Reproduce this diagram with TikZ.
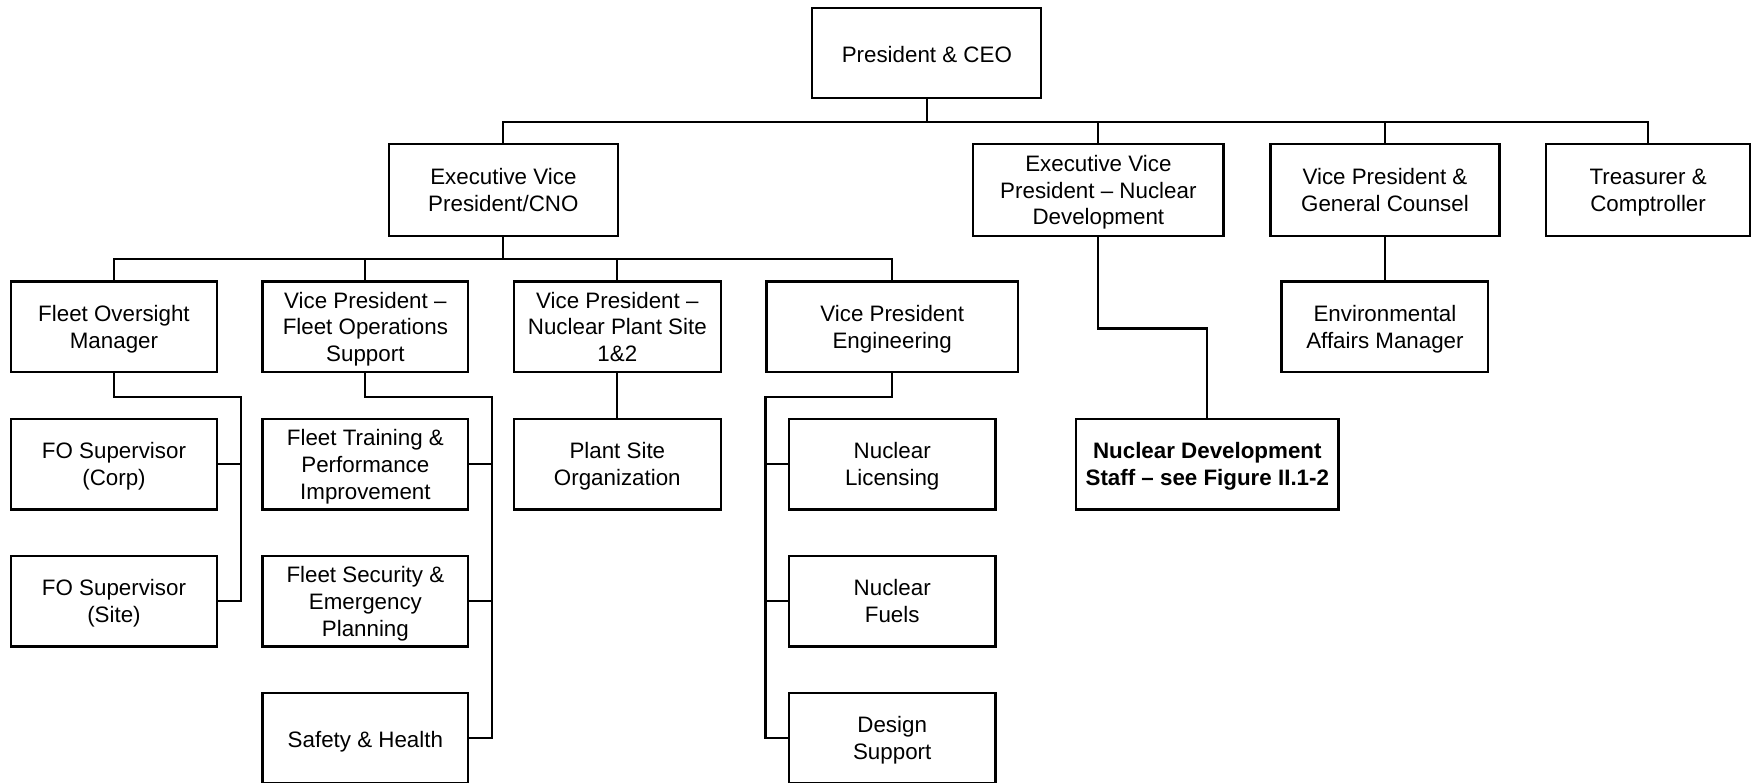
\documentclass[tikz,border=0pt]{standalone}
\usepackage{fontspec}
\setmainfont{Liberation Sans}
\usetikzlibrary{calc}

\begin{document}
\begin{tikzpicture}[x=1pt,y=-1pt,
    box/.style={draw,line width=2pt,align=center,inner sep=0pt,minimum height=81pt,
      font=\fontsize{20}{24}\selectfont,text depth=0pt,
      execute at begin node=\strut,execute at end node=\strut},
    link/.style={line width=2pt}]
    \useasboundingbox (0,0) rectangle (1568,700);
    \clip (0,0) rectangle (1568,700);

    \node[box,minimum width=205pt] (ceo) at (829.5,47.5) {President \& CEO};

    \node[box,minimum width=205pt,minimum height=82pt] (evpcno) at (450.5,170) {Executive Vice\\President/CNO};
    \node[box,minimum width=224pt,minimum height=82pt] (evpnd) at (983,170) {Executive Vice\\President \textendash{} Nuclear\\Development};
    \node[box,minimum width=205pt,minimum height=82pt] (vpgc) at (1239.5,170) {Vice President \&\\General Counsel};
    \node[box,minimum width=183pt,minimum height=82pt] (treas) at (1475,170) {Treasurer \&\\Comptroller};

    \node[box,minimum width=184pt] (fom) at (102,292.5) {Fleet Oversight\\Manager};
    \node[box,minimum width=184pt] (vpfos) at (327,292.5) {Vice President \textendash\\Fleet Operations\\Support};
    \node[box,minimum width=185pt] (vpnps) at (552.5,292.5) {Vice President \textendash\\Nuclear Plant Site\\1\&2};
    \node[box,minimum width=225pt] (vpeng) at (798.5,292.5) {Vice President\\Engineering};
    \node[box,minimum width=185pt] (envaff) at (1239.5,292.5) {Environmental\\Affairs Manager};

    \node[box,minimum width=184pt] (fosc) at (102,415.5) {FO Supervisor\\(Corp)};
    \node[box,minimum width=184pt] (foss) at (102,538) {FO Supervisor\\(Site)};
    \node[box,minimum width=184pt] (ftpi) at (327,415.5) {Fleet Training \&\\Performance\\Improvement};
    \node[box,minimum width=184pt] (fsep) at (327,538) {Fleet Security \&\\Emergency\\Planning};
    \node[box,minimum width=184pt] (sh) at (327,660.5) {Safety \& Health};
    \node[box,minimum width=185pt] (pso) at (552.5,415.5) {Plant Site\\Organization};
    \node[box,minimum width=185pt] (nl) at (798.5,415.5) {Nuclear\\Licensing};
    \node[box,minimum width=185pt] (nf) at (798.5,538) {Nuclear\\Fuels};
    \node[box,minimum width=185pt] (ds) at (798.5,660.5) {Design\\Support};
    \node[box,minimum width=235pt,font=\fontsize{20}{24}\selectfont\bfseries] (nds) at (1080.5,415.5) {Nuclear Development\\Staff \textendash{} see Figure II.1-2};

    \foreach \n in {evpcno,evpnd,vpgc,treas}
      \draw[link] (ceo.south) -- ++(0,20) -| (\n.north);
    \foreach \n in {fom,vpfos,vpnps,vpeng}
      \draw[link] (evpcno.south) -- ++(0,20) -| (\n.north);

    \draw[link] (fom.south) -- ++(0,21) -| ($(foss.east)+(21,0)$) -- (foss.east);
    \draw[link] ($(fosc.east)+(21,0)$) -- (fosc.east);

    \draw[link] (vpfos.south) -- ++(0,21) -| ($(sh.east)+(20,0)$) -- (sh.east);
    \foreach \n in {ftpi,fsep}
      \draw[link] ($(\n.east)+(20,0)$) -- (\n.east);

    \draw[link] (vpnps) -- (pso);

    \draw[link] (vpeng.south) -- ++(0,21) -| ($(ds.west)+(-20,0)$) -- (ds.west);
    \foreach \n in {nl,nf}
      \draw[link] ($(\n.west)+(-20,0)$) -- (\n.west);

    \draw[link] (evpnd.south) -- ++(0,82) -| (nds.north);
    \draw[link] (vpgc) -- (envaff);
\end{tikzpicture}
\end{document}
